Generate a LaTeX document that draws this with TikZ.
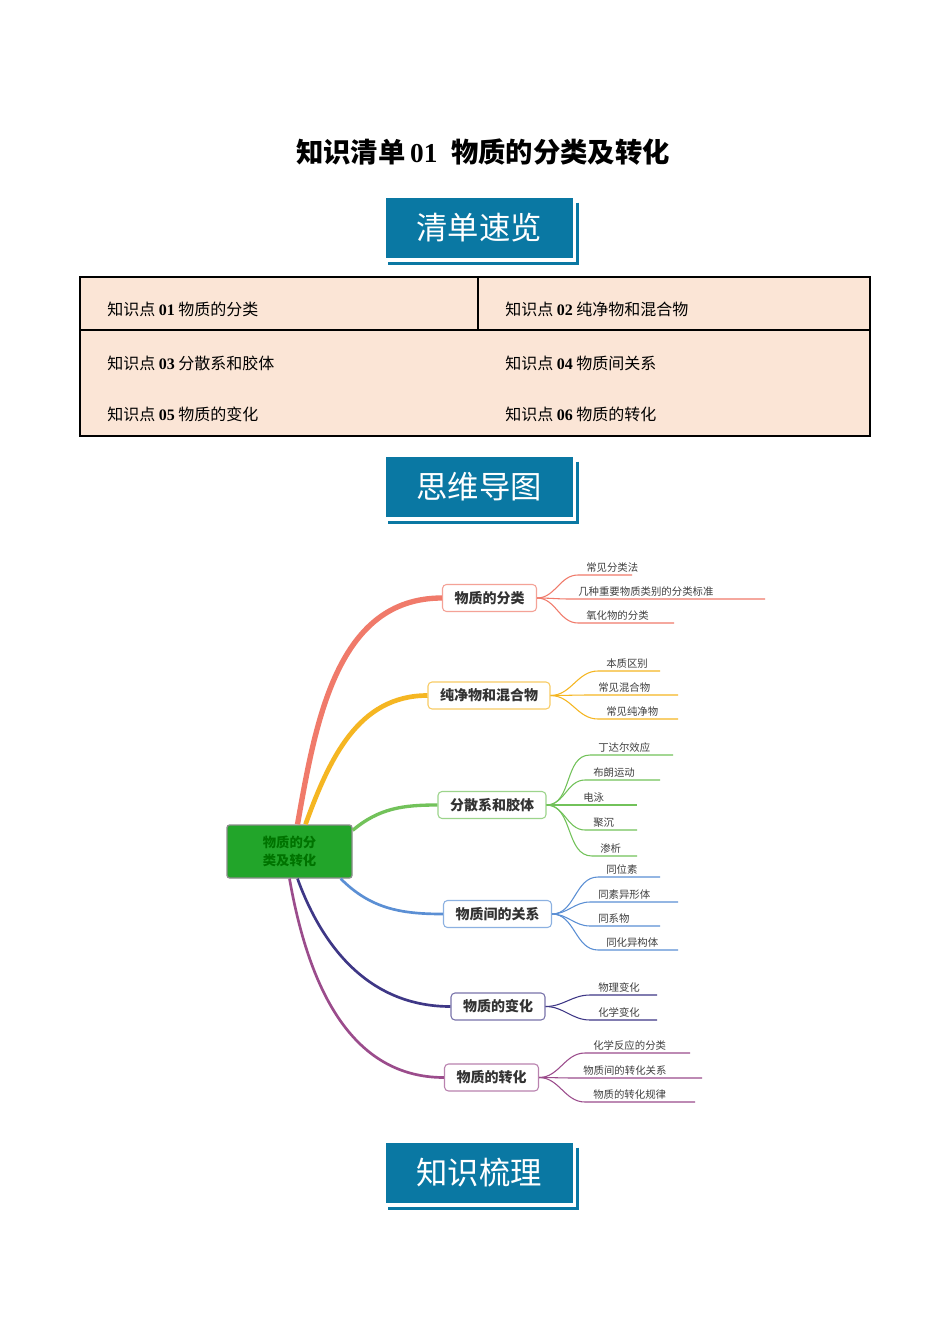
\documentclass[tikz,border=0pt]{standalone}
\usepackage{fontspec}
\setmainfont{Liberation Serif}
\newfontfamily\cjk{Noto Sans CJK SC}
\usetikzlibrary{positioning}
\definecolor{banner}{HTML}{0A78A3}
\definecolor{tablefill}{HTML}{FBE5D6}
\definecolor{rootgreen}{HTML}{22A52A}
\definecolor{cA}{HTML}{F07A6A}
\definecolor{cB}{HTML}{F5B622}
\definecolor{cC}{HTML}{72C25A}
\definecolor{cD}{HTML}{5B8FD4}
\definecolor{cE}{HTML}{3E3786}
\definecolor{cF}{HTML}{9B4C8C}
\tikzset{
  bannerbox/.style={fill=banner,minimum width=187*0.75pt,minimum height=60*0.75pt,
    inner sep=0pt,text=white,font=\cjk\fontsize{23.5}{25}\selectfont},
  rowtext/.style={anchor=west,inner sep=0pt,font=\cjk\fontsize{12}{14}\selectfont},
  branchbox/.style={draw=#1!70,rounded corners=3pt,fill=white,line width=0.8pt,text=black!80,
    minimum height=27*0.75pt,inner xsep=9pt,font=\cjk\bfseries\fontsize{10.5}{12}\selectfont},
  leaftext/.style={anchor=south west,inner sep=1.5pt,text=black!75,font=\cjk\fontsize{7.8}{9}\selectfont},
}
\newcommand{\Banner}[3]{%
  \node[bannerbox] (#1) at (#2) {#3};
  \draw[banner,line width=2.2pt] ([xshift=5*0.75pt,yshift=-5*0.75pt]#1.north east) |- ([xshift=3*0.75pt,yshift=-5*0.75pt]#1.south west);}
\begin{document}
\begin{tikzpicture}[x=0.75pt,y=-0.75pt]
\fill[white] (0,0) rectangle (950,1344);
\useasboundingbox (0,0) rectangle (950,1344);
% title
\node[font=\bfseries\fontsize{20.5}{24}\selectfont] (title) at (483,152)
  {{\cjk\bfseries 知识清单}\,01\ \ {\cjk\bfseries 物质的分类及转化}};
% banners
\Banner{ban1}{479,228}{清单速览}
\Banner{ban2}{479,487}{思维导图}
\Banner{ban3}{479,1173}{知识梳理}
% table
\draw[fill=tablefill,line width=1.5pt] (80,277) rectangle (870,436);
\draw[line width=1.5pt] (80,330) -- (870,330) (478,277) -- (478,330);
\foreach \txt/\x/\y [count=\i] in {{知识点 \textrm{\bfseries 01} 物质的分类}/107/309,
  {知识点 \textrm{\bfseries 02} 纯净物和混合物}/505/309,
  {知识点 \textrm{\bfseries 03} 分散系和胶体}/107/363,
  {知识点 \textrm{\bfseries 04} 物质间关系}/505/363,
  {知识点 \textrm{\bfseries 05} 物质的变化}/107/414,
  {知识点 \textrm{\bfseries 06} 物质的转化}/505/414}
  \node[rowtext] (row-\i) at (\x,\y) {\txt};
% mind map root
\node[fill=rootgreen,draw=black!45,line width=1pt,rounded corners=2pt,
  minimum width=125*0.75pt,minimum height=53*0.75pt,align=center,text=black!55!green,
  font=\cjk\bfseries\fontsize{10}{13}\selectfont] (root) at (289.5,851.5) {物质的分\\类及转化};
% branches
\node[branchbox=cA] (b-1) at (489.5,598) {物质的分类};
\node[branchbox=cB] (b-2) at (489,695.5) {纯净物和混合物};
\node[branchbox=cC] (b-3) at (492,805) {分散系和胶体};
\node[branchbox=cD] (b-4) at (497.5,914) {物质间的关系};
\node[branchbox=cE] (b-5) at (498,1006.5) {物质的变化};
\node[branchbox=cF] (b-6) at (491.5,1077.5) {物质的转化};
\draw[cA,line width=4pt] ([xshift=8*0.75pt]root.north) to[out=80,in=180] (b-1.west);
\draw[cB,line width=3.5pt] ([xshift=16*0.75pt]root.north) to[out=70,in=180] (b-2.west);
\draw[cC,line width=2.5pt] ([yshift=-6*0.75pt]root.north east) to[out=40,in=180] (b-3.west);
\draw[cD,line width=2pt] ([xshift=-12*0.75pt]root.south east) to[out=-45,in=180] (b-4.west);
\draw[cE,line width=2pt] ([xshift=8*0.75pt]root.south) to[out=-70,in=180] (b-5.west);
\draw[cF,line width=2pt] (root.south) to[out=-80,in=180] (b-6.west);
% leaves
\foreach \b/\col/\txt/\y/\xa/\xb [count=\i] in {
  1/cA/常见分类法/575/578/632, 1/cA/几种重要物质类别的分类标准/599/570/765, 1/cA/氧化物的分类/623/578/674,
  2/cB/本质区别/671/598/660, 2/cB/常见混合物/695/590/678, 2/cB/常见纯净物/719/598/678,
  3/cC/丁达尔效应/755/590/673, 3/cC/布朗运动/780/585/660, 3/cC/电泳/805/575/637,
  3/cC/聚沉/830/585/637, 3/cC/渗析/856/592/637,
  4/cD/同位素/877/598/660, 4/cD/同素异形体/902/590/678, 4/cD/同系物/926/590/660,
  4/cD/同化异构体/950/598/678,
  5/cE/物理变化/995/590/657, 5/cE/化学变化/1020/590/657,
  6/cF/化学反应的分类/1053/585/690, 6/cF/物质间的转化关系/1078/575/702, 6/cF/物质的转化规律/1102/585/695}
{
  \coordinate (ls-\i) at (\xa,\y);
  \coordinate (le-\i) at (\xb,\y);
  \node[leaftext] (leaf-\i) at ([xshift=6*0.75pt]ls-\i) {\txt};
  \draw[\col,line width=0.8pt] (b-\b.east) to[out=0,in=180] (ls-\i) -- (le-\i);
}
\end{tikzpicture}
\end{document}
